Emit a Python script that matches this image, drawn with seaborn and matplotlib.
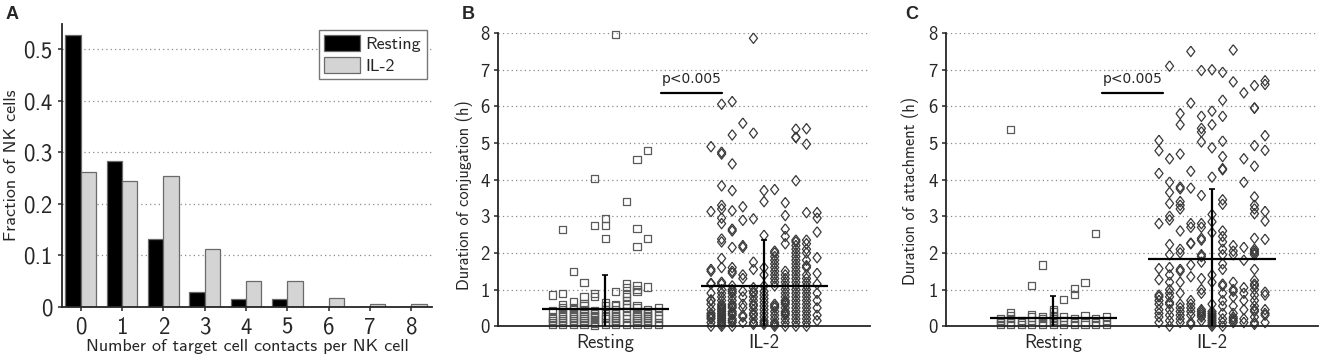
import numpy as np
import pandas as pd
import matplotlib
matplotlib.use("Agg")
import matplotlib.pyplot as plt
import seaborn as sns

sns.set_style("ticks")
plt.rcParams["font.family"] = "cmss10"
plt.rcParams["axes.formatter.use_mathtext"] = True
plt.rcParams["axes.linewidth"] = 1.3

# ---- panel A: histogram of contacts
contacts = list(range(9))
frac_resting = [0.526, 0.282, 0.131, 0.030, 0.015, 0.015, 0.0, 0.0, 0.0]
frac_il2 = [0.262, 0.244, 0.253, 0.113, 0.050, 0.050, 0.018, 0.005, 0.005]
frac_ticks = [0, 0.1, 0.2, 0.3, 0.4, 0.5]
frac_ticklabels = ["0", "0.1", "0.2", "0.3", "0.4", "0.5"]

# ---- panels B and C: one list per column of points
conditions = ["Resting", "IL-2"]
conj_resting = [
    [0.05, 0.1, 0.15, 0.2, 0.25, 0.42, 0.85],
    [0.05, 0.1, 0.15, 0.2, 0.3, 0.35, 0.45, 0.5, 0.6, 0.9, 2.65],
    [0.05, 0.1, 0.15, 0.2, 0.25, 0.3, 0.35, 0.45, 0.5, 0.67, 1.5],
    [0.05, 0.1, 0.15, 0.2, 0.25, 0.3, 0.4, 0.45, 0.55, 0.62, 0.8, 1.2],
    [0.02, 0.08, 0.12, 0.18, 0.25, 0.3, 0.35, 0.42, 0.8, 0.88, 2.76, 4.03],
    [0.05, 0.1, 0.2, 0.25, 0.3, 0.45, 0.55, 0.65, 2.4, 2.76, 2.94],
    [0.05, 0.1, 0.15, 0.2, 0.25, 0.3, 0.35, 0.45, 0.55, 0.6, 0.94, 7.97],
    [0.05, 0.1, 0.2, 0.3, 0.4, 0.5, 0.6, 0.7, 0.8, 0.9, 1.05, 1.17, 3.4],
    [0.05, 0.1, 0.15, 0.2, 0.25, 0.3, 0.4, 0.5, 0.55, 0.95, 1.0, 1.1, 2.17, 2.66, 4.56],
    [0.05, 0.1, 0.15, 0.2, 0.25, 0.3, 0.35, 0.4, 0.45, 1.07, 2.4, 4.79],
    [0.05, 0.1, 0.2, 0.3, 0.4, 0.5],
]
conj_il2 = [
    [0.0, 0.1, 0.2, 0.25, 0.3, 0.35, 0.45, 0.6, 0.7, 0.72, 0.9, 1.15, 1.17, 1.5, 1.55, 3.13, 4.9],
    [0.0, 0.05, 0.1, 0.15, 0.2, 0.25, 0.3, 0.35, 0.4, 0.45, 0.5, 0.55, 0.6, 0.7, 0.8, 0.9, 1.0,
     1.15, 1.2, 1.6, 1.85, 2.3, 2.38, 2.8, 2.95, 3.2, 3.3, 3.83, 4.7, 4.75, 6.06],
    [0.0, 0.1, 0.15, 0.2, 0.3, 0.35, 0.4, 0.5, 0.55, 0.6, 0.7, 0.8, 0.9, 0.95, 1.0, 1.1, 1.45,
     1.5, 1.6, 2.15, 2.6, 2.65, 3.15, 3.7, 4.43, 5.22, 6.13],
    [0.1, 0.25, 0.3, 0.5, 0.6, 0.8, 0.95, 1.3, 1.4, 2.15, 2.2, 2.89, 3.26, 5.54],
    [0.05, 0.1, 0.2, 0.3, 0.35, 0.45, 0.55, 0.6, 0.7, 0.8, 0.9, 0.95, 1.05, 1.55, 1.75, 2.93,
     5.27, 7.86],
    [0.05, 0.1, 0.15, 0.25, 0.35, 0.45, 0.55, 0.65, 0.75, 0.85, 0.95, 1.1, 1.4, 1.6, 2.48, 3.4, 3.7],
    [0.0, 0.05, 0.1, 0.2, 0.3, 0.4, 0.5, 0.55, 0.6, 1.1, 1.2, 1.3, 1.4, 1.5, 1.6, 1.7, 1.8, 1.9,
     2.0, 2.05, 3.73],
    [0.0, 0.1, 0.2, 0.3, 0.35, 0.4, 0.5, 0.6, 0.65, 0.7, 0.8, 0.9, 1.0, 1.1, 1.2, 1.3, 1.4, 1.5,
     2.25, 2.45, 2.65, 3.02, 3.37],
    [0.0, 0.1, 0.2, 0.3, 0.4, 0.5, 0.6, 0.7, 0.8, 0.9, 1.0, 1.1, 1.2, 1.3, 1.4, 1.5, 1.6, 1.7,
     1.8, 1.9, 2.0, 2.1, 2.2, 2.3, 2.35, 3.97, 5.15, 5.16, 5.38],
    [0.0, 0.1, 0.2, 0.3, 0.4, 0.5, 0.6, 0.7, 0.8, 0.9, 1.0, 1.1, 1.2, 1.3, 1.4, 1.6, 1.65, 1.8,
     2.0, 2.1, 2.25, 2.35, 3.1, 4.97, 5.39],
    [0.15, 0.3, 0.5, 0.7, 0.9, 1.15, 1.44, 1.87, 2.57, 2.95, 3.1],
]
att_resting = [
    [0.05, 0.1, 0.15, 0.2],
    [0.05, 0.1, 0.2, 0.3, 0.38, 5.38],
    [0.05, 0.1, 0.15],
    [0.05, 0.15, 0.25, 0.33, 1.12],
    [0.05, 0.1, 0.2, 0.27, 1.67],
    [0.05, 0.1, 0.15, 0.2, 0.25, 0.3, 0.4, 0.45],
    [0.05, 0.15, 0.25, 0.73],
    [0.05, 0.1, 0.2, 0.87, 1.03],
    [0.05, 0.1, 0.28, 1.2],
    [0.05, 0.1, 0.22, 2.52],
    [0.05, 0.15, 0.27],
]
att_il2 = [
    [0.1, 0.25, 0.35, 0.45, 0.6, 0.7, 0.8, 0.85, 1.27, 1.57, 2.8, 4.17, 4.79, 5.07],
    [0.0, 0.15, 0.3, 0.45, 0.6, 0.65, 0.8, 0.9, 1.0, 1.2, 1.4, 1.6, 1.95, 2.23, 2.9, 3.0, 3.35,
     3.65, 3.93, 4.57, 7.1],
    [0.1, 0.2, 0.3, 0.4, 0.5, 0.6, 0.9, 1.2, 1.5, 1.55, 2.0, 2.1, 2.6, 3.2, 3.3, 3.4, 3.75, 3.8,
     4.7, 5.5, 5.8],
    [0.05, 0.1, 0.3, 0.4, 0.5, 0.6, 0.7, 1.35, 1.67, 2.25, 2.27, 2.7, 2.8, 3.77, 4.23, 6.09, 7.5],
    [0.15, 0.25, 0.3, 0.35, 0.4, 0.45, 0.9, 1.0, 1.3, 1.75, 1.9, 1.95, 2.35, 2.4, 2.7, 2.8, 3.57,
     5.03, 5.3, 5.4, 5.73, 6.98],
    [0.0, 0.05, 0.1, 0.15, 0.2, 0.25, 0.3, 0.35, 0.4, 0.6, 1.2, 1.4, 2.55, 2.85, 3.05, 4.07,
     4.87, 5.5, 5.87, 7.0],
    [0.0, 0.1, 0.2, 0.35, 0.55, 0.7, 0.9, 1.1, 1.15, 1.55, 1.7, 1.95, 2.1, 2.3, 2.45, 2.6, 3.33,
     3.45, 4.27, 4.3, 4.63, 5.05, 5.73, 6.17, 6.93],
    [0.1, 0.15, 0.2, 0.25, 0.35, 0.55, 0.8, 0.95, 1.0, 1.2, 1.95, 2.05, 2.2, 6.67, 7.54],
    [0.1, 0.2, 0.45, 0.7, 0.9, 1.05, 1.8, 2.15, 3.93, 4.57, 6.37],
    [0.05, 0.1, 0.25, 0.4, 0.45, 0.55, 0.7, 0.85, 1.0, 1.1, 1.15, 1.25, 1.55, 1.95, 2.0, 2.05,
     2.1, 2.4, 3.07, 3.2, 3.3, 3.53, 4.37, 4.93, 5.95, 5.96, 6.57],
    [0.1, 0.3, 0.35, 0.45, 0.85, 0.93, 2.37, 2.87, 3.13, 4.8, 5.2, 6.6, 6.7],
]
conj_mean = [0.48, 1.09]
conj_sd = [0.91, 1.26]
att_mean = [0.23, 1.83]
att_sd = [0.60, 1.91]
dur_ticks = list(range(9))

col_step = 0.0668


def to_long(resting_cols, il2_cols):
    rows = []
    for ci, cols in enumerate([resting_cols, il2_cols]):
        for k, vals in enumerate(cols):
            for v in vals:
                rows.append({"condition": conditions[ci],
                             "xpos": ci + (k - 5) * col_step,
                             "duration": v})
    return pd.DataFrame(rows)


diamond = [(0, 1), (0.78, 0), (0, -1), (-0.78, 0), (0, 1)]

fig = plt.figure(figsize=(13.23, 3.6), dpi=100)
axA = fig.add_axes([0.0469, 0.147, 0.2796, 0.786])
axB = fig.add_axes([0.3764, 0.094, 0.2812, 0.814])
axC = fig.add_axes([0.7150, 0.094, 0.2812, 0.814])

grid_kw = dict(linestyle=(0, (1, 2.5)), color="#8a8a8a", linewidth=0.9)

# ---- A
dfA = pd.DataFrame({
    "contacts": contacts * 2,
    "fraction": frac_resting + frac_il2,
    "condition": ["Resting"] * 9 + ["IL-2"] * 9,
})
axA.yaxis.grid(True, **grid_kw)
axA.set_axisbelow(True)
sns.barplot(data=dfA, x="contacts", y="fraction", hue="condition",
            palette={"Resting": "black", "IL-2": "#d4d4d4"}, width=0.74,
            edgecolor="#6a6a6a", linewidth=0.9, ax=axA)
axA.set_xlim(-0.45, 8.5)
axA.set_ylim(0, 0.548)
axA.set_yticks(frac_ticks)
axA.set_yticklabels(frac_ticklabels, fontsize=16.5)
axA.set_xticks(contacts)
axA.set_xticklabels([str(c) for c in contacts], fontsize=16.5)
axA.set_xlabel("Number of target cell contacts per NK cell", fontsize=13, labelpad=0)
axA.set_ylabel("Fraction of NK cells", fontsize=13, labelpad=3)
axA.tick_params(length=3, width=1.1, pad=4)
axA.legend(loc="upper right", fontsize=13, handlelength=2.0, handleheight=1.0,
           fancybox=False, edgecolor="#777777", framealpha=1, borderaxespad=0.3,
           labelspacing=0.25, handletextpad=0.3, borderpad=0.3)
sns.despine(ax=axA)

# ---- B and C
panels = [
    (axB, conj_resting, conj_il2, conj_mean, conj_sd, "Duration of conjugation (h)",
     (0.349, 0.737), (-0.066, 0.447)),
    (axC, att_resting, att_il2, att_mean, att_sd, "Duration of attachment (h)",
     (0.308, 0.692), (-0.072, 0.46)),
]
for ax, rcols, icols, means, sds, ylab, pbar, lab_xy in panels:
    df = to_long(rcols, icols)
    ax.yaxis.grid(True, **grid_kw)
    ax.set_axisbelow(True)
    sns.scatterplot(data=df[df.condition == "Resting"], x="xpos", y="duration",
                    marker="s", s=26, color="#5a5a5a", linewidth=0.9, ax=ax, clip_on=False)
    ax.collections[-1].set_facecolor("none")
    ax.collections[-1].set_edgecolor("#5a5a5a")
    sns.scatterplot(data=df[df.condition == "IL-2"], x="xpos", y="duration",
                    marker=diamond, s=56, color="#3a3a3a", linewidth=0.9, ax=ax, clip_on=False)
    ax.collections[-1].set_facecolor("none")
    ax.collections[-1].set_edgecolor("#3a3a3a")
    pos = np.arange(len(conditions))
    ax.hlines(means, pos - 0.4, pos + 0.4, color="black", linewidth=1.6, zorder=4)
    ax.errorbar(pos, means, yerr=sds, fmt="none", ecolor="black", elinewidth=1.6,
                capsize=2, capthick=1.2, zorder=4)
    ax.plot(list(pbar), [6.37, 6.37], color="black", linewidth=1.6)
    ax.text(sum(pbar) / 2, 6.55, "p<0.005", ha="center", va="bottom", fontsize=10,
            family="DejaVu Sans")
    ax.set_xlim(-0.675, 1.667)
    ax.set_ylim(0, 8)
    ax.set_yticks(dur_ticks)
    ax.set_yticklabels([str(t) for t in dur_ticks], fontsize=13.5)
    ax.set_xticks(pos)
    ax.set_xticklabels(conditions, fontsize=13.5)
    ax.set_xlabel("")
    ax.set_ylabel(ylab, fontsize=11.8)
    ax.yaxis.set_label_coords(*lab_xy)
    ax.tick_params(axis="y", length=3, width=1.1, pad=3)
    ax.tick_params(axis="x", length=0, pad=6)
    sns.despine(ax=ax)

for label, x in [("A", 0.004), ("B", 0.349), ("C", 0.684)]:
    fig.text(x, 0.96, label, fontsize=13, fontweight="bold", family="Liberation Sans",
             va="center")

fig.savefig("out.png", dpi=100)
